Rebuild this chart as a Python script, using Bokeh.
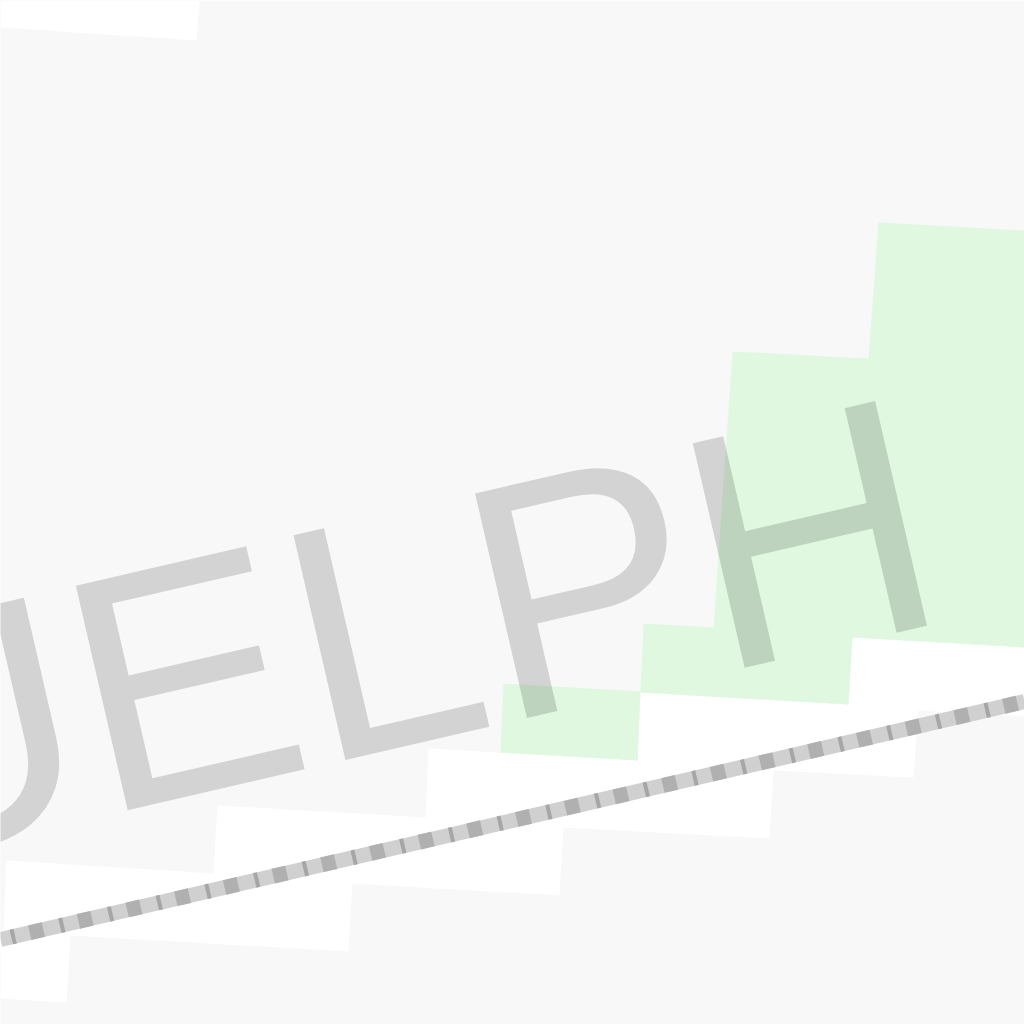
from bokeh.plotting import figure
from bokeh.models import Range1d
from bokeh.core.properties import value
from bokeh.embed import file_html
from bokeh.resources import INLINE

# map shapes in screen pixels (y grows downwards)
white_xs = [
    [0, 199, 196, 0],
    [6, 213, 217, 425, 428, 637, 640, 848, 852, 1024, 1024, 918, 913, 773,
     769, 563, 559, 352, 348, 70, 66, 0, 0, 3],
]
white_ys = [
    [0, 0, 40, 27],
    [860, 873, 805, 817, 748, 760, 692, 704, 637, 647, 716, 710, 777, 770,
     838, 827, 895, 883, 951, 935, 1002, 998, 935, 927],
]

park_xs = [
    [503, 640, 637, 500],
    [643, 713, 732, 868, 878, 1024, 1024, 852, 848, 640],
]
park_ys = [
    [683, 691, 760, 752],
    [623, 627, 351, 358, 222, 230, 647, 637, 704, 692],
]

rail_x = [0, 1024]
rail_y = [939, 701]

label = ["GUELPH"]
label_x = [927]
label_y = [506]

p = figure(width=1024, height=1024, output_backend="svg", toolbar_location=None,
           x_range=Range1d(0, 1024), y_range=Range1d(1024, 0), min_border=0)
p.axis.visible = False
p.grid.visible = False
p.outline_line_color = None
p.background_fill_color = "#f8f8f8"
p.border_fill_color = "#f8f8f8"

p.patches(white_xs, white_ys, fill_color="#ffffff", line_color=None)
p.patches(park_xs, park_ys, fill_color="#e0f8e0", line_color=None)

# railway: light band, dark blocks, thin ticks
p.line(rail_x, rail_y, line_color="#d0d0d0", line_width=15)
p.line(rail_x, rail_y, line_color="#b0b0b0", line_width=15,
       line_dash="14 36", line_dash_offset=20)
p.line(rail_x, rail_y, line_color="#a6a6a6", line_width=15,
       line_dash="4 46", line_dash_offset=39)

p.text(label_x, label_y, text=label, angle=13, angle_units="deg",
       text_font=value("Liberation Sans"), text_font_size="335px",
       text_color="black", text_alpha=0.15,
       text_align="right", text_baseline="alphabetic")

open("out.html", "w").write(file_html(p, INLINE))
